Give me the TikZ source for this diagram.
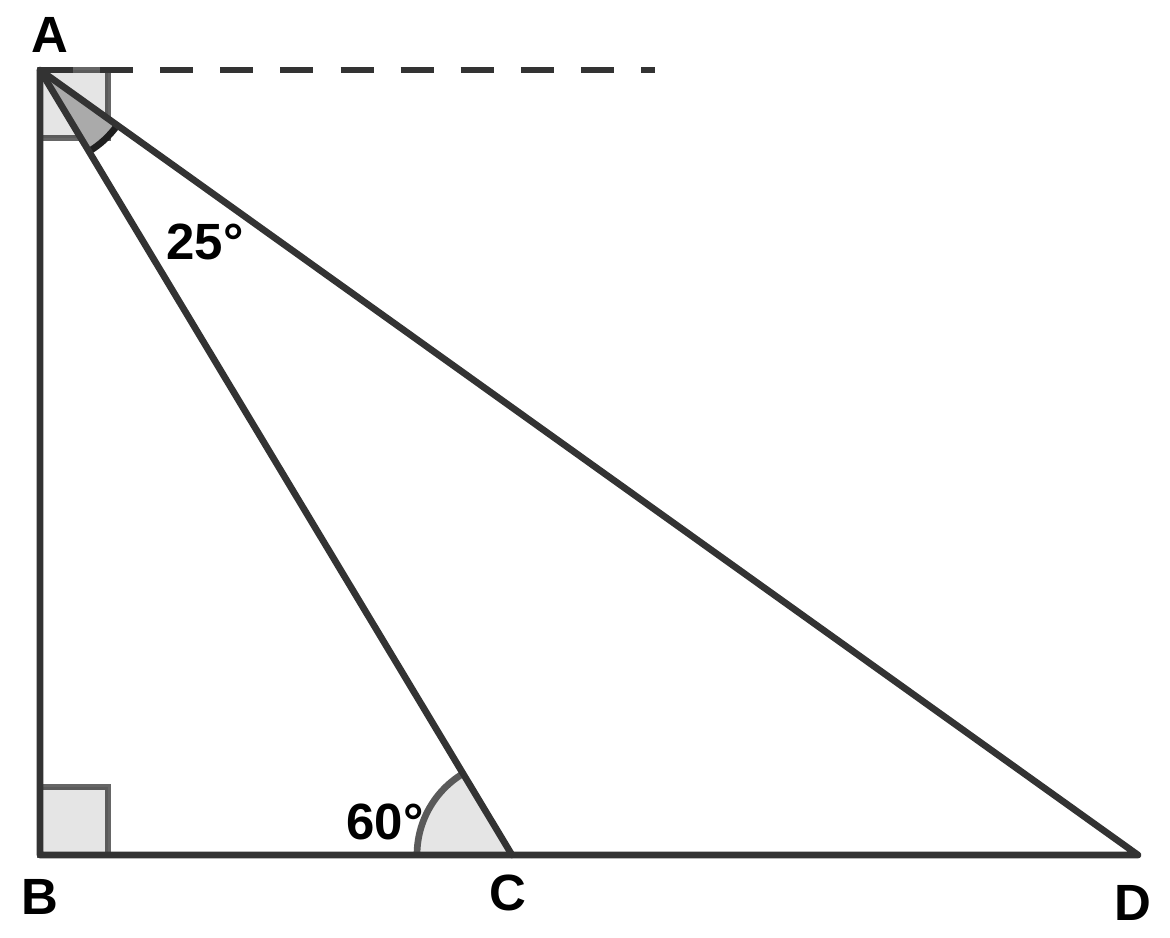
\documentclass[tikz,border=0pt]{standalone}
\usepackage{fontspec}
\setmainfont{Liberation Sans}
\usetikzlibrary{calc}
\definecolor{lineclr}{RGB}{51,51,51}
\definecolor{lightfill}{RGB}{229,229,229}
\definecolor{darkfill}{RGB}{170,170,170}
\definecolor{arcgray}{RGB}{90,90,90}

\begin{document}
\begin{tikzpicture}[
    seg/.style={line width=1.9pt, draw=lineclr, line cap=round, line join=round},
    marksq/.style={fill=lightfill, draw=black, draw opacity=0.6, line width=1.9pt},
    lbl/.style={font=\bfseries\fontsize{14.5pt}{17pt}\selectfont, inner sep=0pt}
    ]
    \useasboundingbox (0,0) rectangle (11.7,9.37);
    \coordinate (A) at (0.40,8.67);
    \coordinate (B) at (0.40,0.82);
    \coordinate (C) at (5.12,0.82);
    \coordinate (D) at (11.38,0.82);
    \coordinate (E) at (6.55,8.67);

    % right angles
    \draw[marksq] (A) rectangle ($(A)+(0.68,-0.68)$);
    \draw[marksq] (B) rectangle ($(B)+(0.68,0.68)$);

    % angle marks
    \fill[lightfill] (C) -- ++(180:0.95) arc (180:121:0.95) -- cycle;
    \draw[line width=1.9pt, draw=arcgray] ($(C)+(180:0.95)$) arc (180:121:0.95);
    \fill[darkfill] (A) -- ++(-59:0.95) arc (-59:-35.6:0.95) -- cycle;
    \draw[line width=1.9pt, draw=black!88] ($(A)+(-59:0.95)$) arc (-59:-35.6:0.95);

    % triangle
    \draw[seg] (A) -- (B) -- (D) -- cycle;
    \draw[seg] (A) -- (C);
    \draw[seg, line cap=butt, dash pattern=on 9.4pt off 7.7pt] (A) -- (E);

    % labels
    \node[lbl] (la) at (0.50,9.02) {A};
    \node[lbl] (lb) at (0.40,0.40) {B};
    \node[lbl] (lc) at (5.08,0.44) {C};
    \node[lbl] (ld) at (11.33,0.34) {D};
    \node[lbl] (a25) at (2.05,6.95) {25°};
    \node[lbl] (a60) at (3.85,1.15) {60°};
\end{tikzpicture}
\end{document}
